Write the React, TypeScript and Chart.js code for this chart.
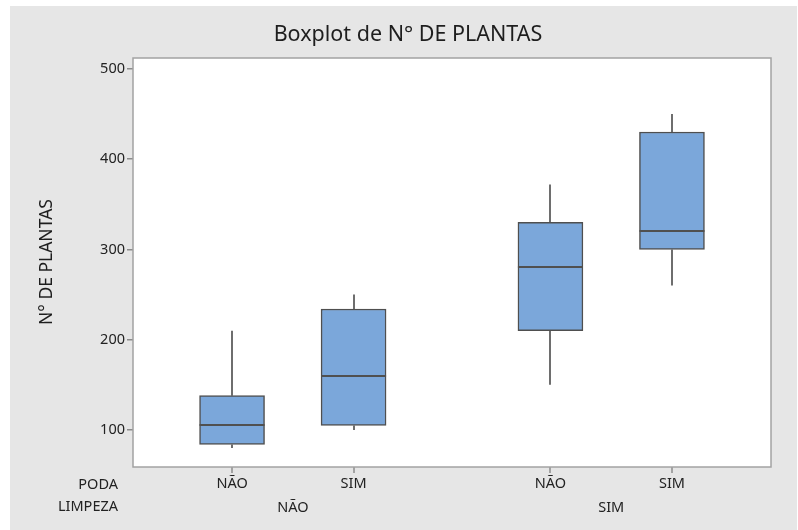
import React, { useEffect, useRef } from "react";
import { Chart, registerables } from "chart.js";

Chart.register(...registerables);

const podaLabels = ["NÃO", "SIM", "NÃO", "SIM"];
const limpezaLabels = ["NÃO", "SIM"];
const xPositions = [1, 2, 3.62, 4.62];
const limpezaPositions = [1.5, 4.12];
const mins = [80, 100, 150, 260];
const q1s = [84, 105, 210, 300];
const medians = [105, 160, 281, 320];
const q3s = [138, 234, 330, 430];
const maxs = [210, 250, 372, 450];
const yTicks = [100, 200, 300, 400, 500];

const FONT = "'Noto Sans', 'Open Sans', sans-serif";

export default function App() {
  const ref = useRef<HTMLCanvasElement | null>(null);

  useEffect(() => {
    if (!ref.current) return;

    const decor = {
      id: "decor",
      beforeDraw(chart: any) {
        const { ctx, chartArea } = chart;
        ctx.save();
        ctx.fillStyle = "#ffffff";
        ctx.fillRect(0, 0, chart.width, chart.height);
        ctx.fillStyle = "#e6e6e6";
        ctx.fillRect(10, 6, chart.width - 11, chart.height - 6);
        ctx.fillStyle = "#ffffff";
        ctx.fillRect(chartArea.left, chartArea.top, chartArea.right - chartArea.left, chartArea.bottom - chartArea.top);
        ctx.restore();
      },
      beforeDatasetsDraw(chart: any) {
        const { ctx } = chart;
        const xs = chart.scales.x;
        const ys = chart.scales.y;
        ctx.save();
        ctx.strokeStyle = "#6e6e6e";
        ctx.lineWidth = 2;
        for (let i = 0; i < xPositions.length; i++) {
          const px = Math.round(xs.getPixelForValue(xPositions[i]));
          ctx.beginPath();
          ctx.moveTo(px, ys.getPixelForValue(maxs[i]));
          ctx.lineTo(px, ys.getPixelForValue(q3s[i]));
          ctx.moveTo(px, ys.getPixelForValue(q1s[i]));
          ctx.lineTo(px, ys.getPixelForValue(mins[i]));
          ctx.stroke();
        }
        ctx.restore();
      },
      afterDatasetsDraw(chart: any) {
        const { ctx, chartArea } = chart;
        const xs = chart.scales.x;
        const ys = chart.scales.y;
        const meta = chart.getDatasetMeta(0);
        ctx.save();
        ctx.strokeStyle = "#505050";
        ctx.lineWidth = 2;
        for (let i = 0; i < xPositions.length; i++) {
          const px = xs.getPixelForValue(xPositions[i]);
          const half = meta.data[i].width / 2;
          const py = Math.round(ys.getPixelForValue(medians[i]));
          ctx.beginPath();
          ctx.moveTo(px - half, py);
          ctx.lineTo(px + half, py);
          ctx.stroke();
        }
        // x tick marks
        ctx.strokeStyle = "#8c8c8c";
        ctx.lineWidth = 1.5;
        for (let i = 0; i < xPositions.length; i++) {
          const px = Math.round(xs.getPixelForValue(xPositions[i]));
          ctx.beginPath();
          ctx.moveTo(px, chartArea.bottom);
          ctx.lineTo(px, chartArea.bottom + 6);
          ctx.stroke();
        }
        // frame
        ctx.strokeStyle = "#a3a3a3";
        ctx.lineWidth = 1.5;
        ctx.strokeRect(chartArea.left, chartArea.top, chartArea.right - chartArea.left, chartArea.bottom - chartArea.top);
        // title
        ctx.fillStyle = "#1e1e1e";
        ctx.textAlign = "center";
        ctx.textBaseline = "middle";
        ctx.font = `21.5px ${FONT}`;
        ctx.fillText("Boxplot de N° DE PLANTAS", 408, 35);
        // y title
        ctx.save();
        ctx.translate(47, 262);
        ctx.rotate(-Math.PI / 2);
        ctx.font = `17.5px ${FONT}`;
        ctx.fillText("N° DE PLANTAS", 0, 0);
        ctx.restore();
        // row headers
        ctx.textAlign = "right";
        ctx.font = `14.5px ${FONT}`;
        ctx.fillStyle = "#222222";
        ctx.fillText("PODA", 118, 485);
        ctx.fillText("LIMPEZA", 118, 507);
        ctx.restore();
      },
    };

    const tickFont = { family: FONT, size: 14.5 };

    const chart = new Chart(ref.current, {
      type: "bar",
      data: {
        datasets: [
          {
            data: xPositions.map((x, i) => ({ x, y: [q1s[i], q3s[i]] })) as any,
            backgroundColor: "#7ba7da",
            borderColor: "#4f4f4f",
            borderWidth: 1.5,
            borderSkipped: false,
            barThickness: 65,
          },
        ],
      },
      options: {
        animation: false,
        responsive: false,
        devicePixelRatio: 1,
        layout: { padding: { left: 0, right: 27, top: 58, bottom: 0 } },
        plugins: { legend: { display: false }, tooltip: { enabled: false }, title: { display: false } },
        scales: {
          x: {
            type: "linear",
            position: "bottom",
            weight: 0,
            offset: false,
            min: 0.185,
            max: 5.435,
            afterBuildTicks: (s: any) => {
              s.ticks = xPositions.map((v) => ({ value: v }));
            },
            afterFit: (s: any) => {
              s.height = 24;
            },
            ticks: {
              autoSkip: false,
              maxRotation: 0,
              padding: 8,
              color: "#222222",
              font: tickFont,
              callback: (v: any) => {
                const idx = xPositions.indexOf(Number(v));
                return idx >= 0 ? podaLabels[idx] : "";
              },
            },
            grid: { display: false, drawTicks: false, offset: false },
            border: { display: false },
          },
          x2: {
            type: "linear",
            position: "bottom",
            weight: 1,
            offset: false,
            min: 0.185,
            max: 5.435,
            afterBuildTicks: (s: any) => {
              s.ticks = limpezaPositions.map((v) => ({ value: v }));
            },
            afterFit: (s: any) => {
              s.height = 39;
            },
            ticks: {
              autoSkip: false,
              maxRotation: 0,
              padding: 8,
              color: "#222222",
              font: tickFont,
              callback: (v: any) => {
                const idx = limpezaPositions.indexOf(Number(v));
                return idx >= 0 ? limpezaLabels[idx] : "";
              },
            },
            grid: { display: false, drawTicks: false, offset: false },
            border: { display: false },
          },
          y: {
            type: "linear",
            min: 59,
            max: 512,
            afterBuildTicks: (s: any) => {
              s.ticks = yTicks.map((v) => ({ value: v }));
            },
            afterFit: (s: any) => {
              s.width = 133;
            },
            ticks: {
              padding: 2,
              color: "#222222",
              font: tickFont,
            },
            grid: { drawOnChartArea: false, drawTicks: true, tickLength: 6, color: "#8c8c8c", lineWidth: 1.5 },
            border: { display: false },
          },
        },
      },
      plugins: [decor],
    } as any);

    return () => chart.destroy();
  }, []);

  return (
    <div style={{ position: "absolute", left: 0, top: 0, width: 798, height: 530 }}>
      <canvas ref={ref} width={798} height={530} style={{ display: "block", width: 798, height: 530 }} />
    </div>
  );
}
